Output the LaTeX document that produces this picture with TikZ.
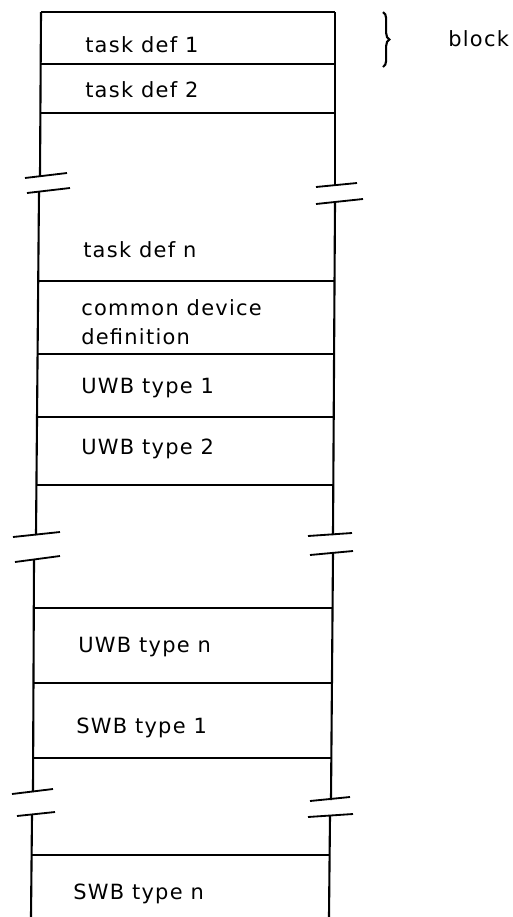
\documentclass[tikz,border=0pt]{standalone}
\usepackage{fontspec}
\setmainfont{DejaVu Sans}[LetterSpace=6]
\usetikzlibrary{decorations.pathreplacing}

\begin{document}
\begin{tikzpicture}[
  x=0.025cm, y=-0.025cm,
  wall/.style={line width=1.5pt},
  sep/.style={line width=1.5pt},
  brk/.style={line width=1.3pt},
  lbl/.style={anchor=base west, inner sep=0pt, align=left, font=\fontsize{14.9}{20.6}\selectfont},
  blockbrace/.style={line width=1.5pt, decorate, decoration={brace, amplitude=4.5pt}}
]
  \useasboundingbox (0,0) rectangle (513,917);

  % left wall, broken in three places
  \draw[wall] (41,12) -- (40,176);
  \draw[wall] (39,191) -- (36,535);
  \draw[wall] (34,560) -- (33,792);
  \draw[wall] (32,815) -- (31,917);
  % right wall
  \draw[wall] (335,12) -- (335,186);
  \draw[wall] (335,203) -- (333,535);
  \draw[wall] (333,553) -- (331,800);
  \draw[wall] (330,816) -- (329,917);

  % break marks
  \draw[brk] (25,178) -- (67,173);
  \draw[brk] (27,193) -- (70,188);
  \draw[brk] (316,187) -- (357,183);
  \draw[brk] (316,204) -- (363,199);
  \draw[brk] (13,537) -- (60,532);
  \draw[brk] (15,562) -- (60,556);
  \draw[brk] (308,536) -- (352,533);
  \draw[brk] (310,555) -- (353,551);
  \draw[brk] (12,794) -- (53,789);
  \draw[brk] (17,816) -- (55,812);
  \draw[brk] (310,801) -- (350,797);
  \draw[brk] (308,817) -- (353,814);

  % horizontal separators
  \draw[sep] (41,12) -- (335,12);
  \draw[sep] (41,64) -- (335,64);
  \draw[sep] (40,113) -- (335,113);
  \draw[sep] (38,281) -- (334,281);
  \draw[sep] (37,354) -- (334,354);
  \draw[sep] (37,417) -- (334,417);
  \draw[sep] (36,485) -- (333,485);
  \draw[sep] (34,608) -- (332,608);
  \draw[sep] (33,683) -- (331,683);
  \draw[sep] (33,758) -- (331,758);
  \draw[sep] (32,855) -- (330,855);

  % entries
  \node[lbl] (task1) at (85,52) {task def 1};
  \node[lbl] (task2) at (85,97) {task def 2};
  \node[lbl] (taskn) at (83,257) {task def n};
  \node[lbl] (common) at (81,344) {common device\\definition};
  \node[lbl] (uwb1) at (81,393) {UWB type 1};
  \node[lbl] (uwb2) at (81,454) {UWB type 2};
  \node[lbl] (uwbn) at (78,652) {UWB type n};
  \node[lbl] (swb1) at (76,733) {SWB type 1};
  \node[lbl] (swbn) at (73,899) {SWB type n};

  % block marker
  \draw[blockbrace] (383,12) -- (383,67);
  \node[lbl] (block) at (448,46) {block};
\end{tikzpicture}
\end{document}
